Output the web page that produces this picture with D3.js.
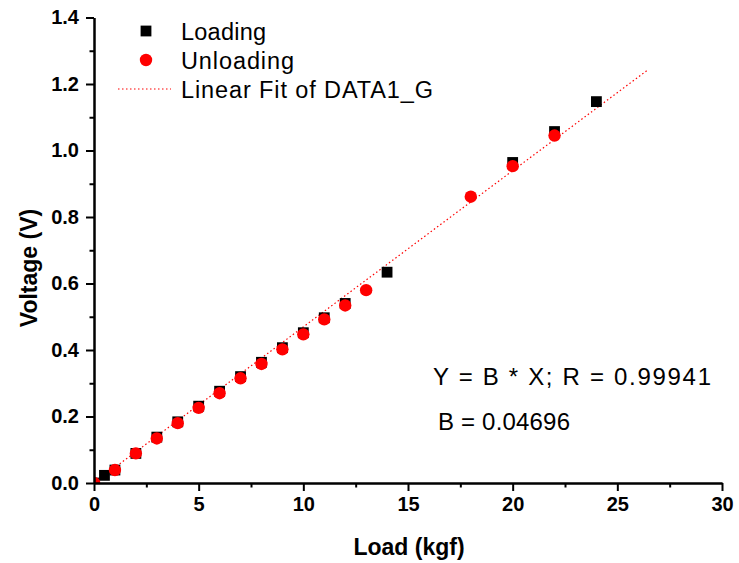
<!DOCTYPE html>
<html>
<head>
<meta charset="utf-8">
<script src="https://cdn.jsdelivr.net/npm/d3@7"></script>
<style>
  html, body { margin: 0; padding: 0; background: #fff; }
  svg { display: block; font-family: "Liberation Sans", Arial, sans-serif; }
</style>
</head>
<body>
<svg id="chart" width="739" height="563"></svg>
<script>
// Load-cell calibration: voltage against applied load
const loadingX   = [0, 0.5, 1, 2, 3, 4, 5, 6, 7, 8, 9, 10, 11, 12, 14, 20, 22, 24];
const loadingY   = [0, 0.023, 0.039, 0.089, 0.138, 0.184, 0.231, 0.276, 0.320, 0.363, 0.407, 0.452, 0.497, 0.540, 0.634, 0.964, 1.057, 1.147];
const unloadingX = [0, 1, 2, 3, 4, 5, 6, 7, 8, 9, 10, 11, 12, 13, 18, 20, 22];
const unloadingY = [0, 0.039, 0.089, 0.134, 0.180, 0.226, 0.270, 0.315, 0.358, 0.402, 0.447, 0.492, 0.534, 0.580, 0.861, 0.953, 1.045];

// Linear fit through the origin
const fitSlope = 0.04696;
const fitR = 0.99941;
const fitRange = [0, 26.4];

const xMajorTicks = [0, 5, 10, 15, 20, 25, 30];
const xMinorTicks = [2.5, 7.5, 12.5, 17.5, 22.5, 27.5];
const yMajorTicks = [0, 0.2, 0.4, 0.6, 0.8, 1.0, 1.2, 1.4];
const yMinorTicks = [0.1, 0.3, 0.5, 0.7, 0.9, 1.1, 1.3];

const legendLabels = ["Loading", "Unloading", "Linear Fit of DATA1_G"];

const svg = d3.select("#chart");
const plotLeft = 94, plotRight = 722, plotTop = 17.5, plotBottom = 483;

const x = d3.scaleLinear().domain([0, 30]).range([plotLeft, plotRight]);
const y = d3.scaleLinear().domain([0, 1.4]).range([plotBottom, plotTop]);

const red = "#ff0000";

// plot-area clip for data marks
svg.append("defs").append("clipPath").attr("id", "plotClip")
  .append("rect")
  .attr("x", plotLeft).attr("y", plotTop)
  .attr("width", plotRight - plotLeft).attr("height", plotBottom - plotTop);

const plot = svg.append("g").attr("clip-path", "url(#plotClip)");

// fit line
plot.append("line")
  .attr("x1", x(fitRange[0])).attr("y1", y(fitSlope * fitRange[0]))
  .attr("x2", x(fitRange[1])).attr("y2", y(fitSlope * fitRange[1]))
  .attr("stroke", red).attr("stroke-width", 1.2)
  .attr("stroke-dasharray", "1.5,2.5");

// loading: black squares
const sq = 10.8;
plot.selectAll("rect.loading")
  .data(loadingX.map((v, i) => [v, loadingY[i]]))
  .join("rect")
  .attr("class", "loading")
  .attr("x", d => x(d[0]) - sq / 2)
  .attr("y", d => y(d[1]) - sq / 2)
  .attr("width", sq).attr("height", sq)
  .attr("fill", "#000");

// unloading: red circles
plot.selectAll("circle.unloading")
  .data(unloadingX.map((v, i) => [v, unloadingY[i]]))
  .join("circle")
  .attr("class", "unloading")
  .attr("cx", d => x(d[0]))
  .attr("cy", d => y(d[1]))
  .attr("r", 6.2)
  .attr("fill", red);

// axes
function styleAxis(g) {
  g.selectAll("path.domain").attr("stroke", "#000").attr("stroke-width", 2);
  g.selectAll(".tick line").attr("stroke", "#000").attr("stroke-width", 2);
  g.selectAll(".tick text")
    .attr("fill", "#000")
    .style("font-family", "'Liberation Sans', Arial, sans-serif")
    .style("font-size", "20px")
    .style("font-weight", "bold");
}

svg.append("g")
  .attr("transform", `translate(0,${plotBottom})`)
  .call(d3.axisBottom(x).tickValues(xMinorTicks).tickSize(4.5).tickSizeOuter(0).tickFormat(""))
  .call(styleAxis);
svg.append("g")
  .attr("transform", `translate(0,${plotBottom})`)
  .call(d3.axisBottom(x).tickValues(xMajorTicks).tickSize(8).tickSizeOuter(0).tickPadding(6)
    .tickFormat(d3.format("d")))
  .call(styleAxis);

svg.append("g")
  .attr("transform", `translate(${plotLeft},0)`)
  .call(d3.axisLeft(y).tickValues(yMinorTicks).tickSize(4.5).tickSizeOuter(0).tickFormat(""))
  .call(styleAxis);
svg.append("g")
  .attr("transform", `translate(${plotLeft},0)`)
  .call(d3.axisLeft(y).tickValues(yMajorTicks).tickSize(8).tickSizeOuter(0).tickPadding(7)
    .tickFormat(d3.format(".1f")))
  .call(styleAxis);

// axis titles
svg.append("text")
  .attr("x", 409).attr("y", 555)
  .attr("text-anchor", "middle")
  .style("font-size", "23px").style("font-weight", "bold")
  .text("Load (kgf)");

svg.append("text")
  .attr("transform", "translate(37,268) rotate(-90)")
  .attr("text-anchor", "middle")
  .style("font-size", "23px").style("font-weight", "bold")
  .text("Voltage (V)");

// legend
const legend = svg.append("g");
legend.append("rect")
  .attr("x", 146 - sq / 2).attr("y", 31 - sq / 2)
  .attr("width", sq).attr("height", sq).attr("fill", "#000");
legend.append("circle")
  .attr("cx", 146).attr("cy", 60).attr("r", 6.2).attr("fill", red);
legend.append("line")
  .attr("x1", 118).attr("x2", 171).attr("y1", 89).attr("y2", 89)
  .attr("stroke", red).attr("stroke-width", 1.2)
  .attr("stroke-dasharray", "1.5,2.5");

const legendBaselines = [39.5, 68.5, 97.5];
const legendWidths = [85, 113, 252];
legend.selectAll("text")
  .data(legendLabels)
  .join("text")
  .attr("x", 181)
  .attr("y", (d, i) => legendBaselines[i])
  .attr("textLength", (d, i) => legendWidths[i])
  .attr("lengthAdjust", "spacing")
  .style("font-size", "23.5px")
  .text(d => d);

// fit annotation
svg.append("text")
  .attr("x", 433).attr("y", 385)
  .attr("textLength", 278).attr("lengthAdjust", "spacing")
  .style("font-size", "24px")
  .text(`Y = B * X; R = ${fitR.toFixed(5)}`);
svg.append("text")
  .attr("x", 438).attr("y", 430)
  .attr("textLength", 132).attr("lengthAdjust", "spacing")
  .style("font-size", "24px")
  .text(`B = ${fitSlope.toFixed(5)}`);
</script>
</body>
</html>
